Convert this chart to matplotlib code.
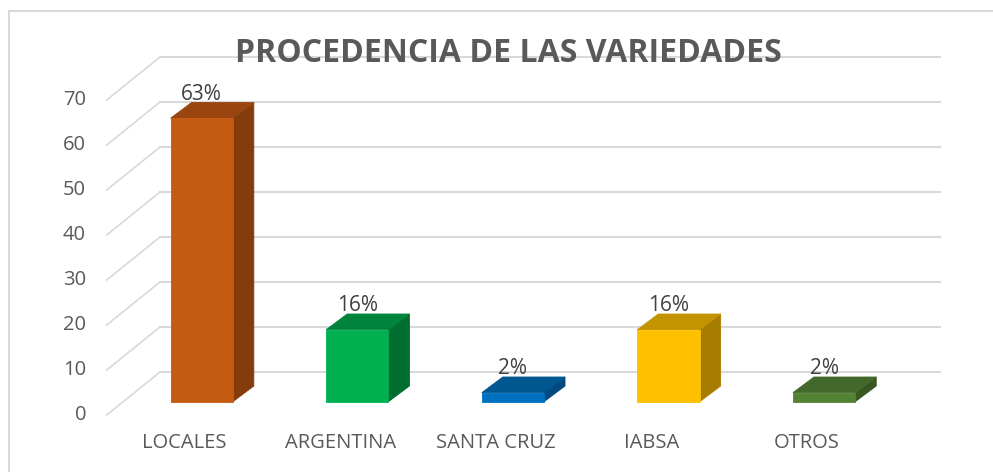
import matplotlib
matplotlib.use("Agg")
import matplotlib.pyplot as plt
from matplotlib.patches import Polygon, Rectangle
from matplotlib.transforms import IdentityTransform

# ---- data ----
categories = ["LOCALES", "ARGENTINA", "SANTA CRUZ", "IABSA", "OTROS"]
values = [63, 16, 2, 16, 2]
value_labels = ["63%", "16%", "2%", "16%", "2%"]
y_ticks = [0, 10, 20, 30, 40, 50, 60, 70]
title = "PROCEDENCIA DE LAS VARIEDADES"

front_colors = ["#C55A11", "#00B050", "#0070C0", "#FFC000", "#548235"]
top_colors = ["#9A4510", "#00843C", "#00568F", "#C49300", "#43682B"]
side_colors = ["#843C0C", "#006E30", "#004A80", "#A67C00", "#385723"]

# ---- layout ----
W, H = 993, 472
DPI = 100
PX_X = 155.6      # pixels per category step
PX_V = 4.5        # pixels per value unit
X0 = 201.7        # pixel x of first bar centre
BASE = 401.7      # pixel y (from top) of bar base
BAR_W = 0.4
DEPTH = (21.0, 15.7)          # bar depth offset (display px, y up)
WALL_BACK = 29.7              # back wall offset above bar plane (px)
WALL_DIAG = (-53.3, -43.0)    # side wall diagonal

TXT = "#595959"
GRID = "#D9D9D9"
FONT = "Open Sans"

fig = plt.figure(figsize=(W / DPI, H / DPI), dpi=DPI)
ax = fig.add_axes([0, 0, 1, 1])
ax.set_xlim(-X0 / PX_X, (W - X0) / PX_X)
ax.set_ylim(-(H - BASE) / PX_V, BASE / PX_V)
ax.axis("off")
fig.canvas.draw()

def disp(x, v, dx=0.0, dy=0.0):
    px, py = ax.transData.transform((x, v))
    return (px + dx, py + dy)

ident = IdentityTransform()

# outer frame (only top and left edges visible)
ax.plot([8.7, 8.7, W + 20], [-20, H - 10.5, H - 10.5], color="#D9D9D9", lw=1.5,
        transform=ident, zorder=0, solid_joinstyle="miter")

# walls / gridlines
x_left = (160 - X0) / PX_X
x_right = (939.5 - X0) / PX_X
for v in y_ticks:
    a = disp(x_left, v, 0, WALL_BACK)
    b = disp(x_right, v, 0, WALL_BACK)
    c = (a[0] + WALL_DIAG[0], a[1] + WALL_DIAG[1])
    ax.plot([a[0], b[0]], [a[1], b[1]], color=GRID, lw=1.5, transform=ident, zorder=1)
    ax.plot([c[0], a[0]], [c[1], a[1]], color=GRID, lw=1.2, transform=ident, zorder=1)
    ax.text(86, c[1], str(v), transform=ident, ha="right", va="center",
            fontsize=14.5, color=TXT, family=FONT, zorder=5)

# title
ax.text(508.5, H - 53, title, transform=ident, ha="center", va="center",
        fontsize=23, fontweight="bold", color=TXT, family=FONT, zorder=6)

# bars
for i, (v, lab) in enumerate(zip(values, value_labels)):
    xl, xr = i - BAR_W / 2, i + BAR_W / 2
    p_bl = disp(xl, 0); p_br = disp(xr, 0)
    p_tl = disp(xl, v); p_tr = disp(xr, v)
    dx, dy = DEPTH
    side = [p_br, (p_br[0] + dx, p_br[1] + dy), (p_tr[0] + dx, p_tr[1] + dy), p_tr]
    top = [p_tl, p_tr, (p_tr[0] + dx, p_tr[1] + dy), (p_tl[0] + dx, p_tl[1] + dy)]
    ax.add_patch(Polygon(side, closed=True, transform=ident, facecolor=side_colors[i],
                         edgecolor=side_colors[i], lw=0.6, zorder=3))
    ax.add_patch(Polygon(top, closed=True, transform=ident, facecolor=top_colors[i],
                         edgecolor=top_colors[i], lw=0.6, zorder=3))
    ax.add_patch(Rectangle((xl, 0), BAR_W, v, facecolor=front_colors[i],
                           edgecolor=front_colors[i], lw=0.6, zorder=4))
    cx = disp(i, v)
    ax.text(cx[0], cx[1] + dy + 3, lab, transform=ident, ha="center", va="baseline",
            fontsize=15, color="#404040", family=FONT, zorder=6)
    lx = disp(i, 0)
    ax.text(lx[0] - 17, H - 443, categories[i], transform=ident, ha="center", va="center",
            fontsize=14.5, color=TXT, family=FONT, zorder=6)

fig.savefig("out.png", dpi=DPI)
